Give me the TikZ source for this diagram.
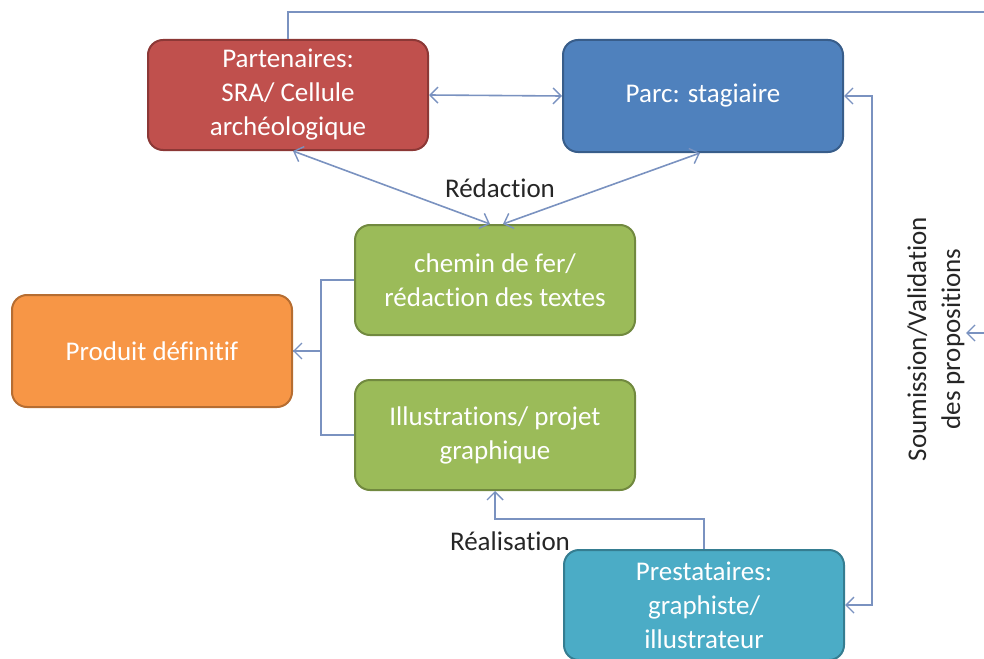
\documentclass[tikz,border=0pt]{standalone}
\usepackage{fontspec}
\setmainfont[Ligatures={NoCommon}]{Carlito}
\usetikzlibrary{arrows.meta,calc}
\definecolor{redF}{HTML}{C0504D}\definecolor{redD}{HTML}{8C3836}
\definecolor{blueF}{HTML}{4F81BD}\definecolor{blueD}{HTML}{385D8A}
\definecolor{greenF}{HTML}{9BBB59}\definecolor{greenD}{HTML}{71893F}
\definecolor{orangeF}{HTML}{F79646}\definecolor{orangeD}{HTML}{B66D31}
\definecolor{tealF}{HTML}{4BACC6}\definecolor{tealD}{HTML}{357D91}
\definecolor{conn}{HTML}{7A92C0}
\definecolor{lbl}{HTML}{262626}
\tikzset{
  box/.style={rectangle, rounded corners=15pt, line width=2pt, minimum width=280pt,
    minimum height=110pt, align=center, text=white, inner sep=2pt,
    font=\fontsize{27}{34}\selectfont},
  conline/.style={draw=conn, line width=1.6pt, arrows={-}},
  tip/.tip={Straight Barb[length=8pt,width=16pt,line width=1.4pt]},
  lab/.style={text=lbl, font=\fontsize{27}{34}\selectfont, align=center, inner sep=0pt}
}
\begin{document}
\begin{tikzpicture}[x=1pt,y=-1pt]
\useasboundingbox (0,0) rectangle (984,658);
\node[box, fill=redF, draw=redD] (red) at (288,95) {Partenaires:\\SRA/ Cellule\\archéologique};
\node[box, fill=blueF, draw=blueD, minimum height=112pt] (blue) at (703,96) {Parc: stagiaire};
\node[box, fill=greenF, draw=greenD] (g1) at (495,280) {chemin de fer/\\rédaction des textes};
\node[box, fill=greenF, draw=greenD] (g2) at (495,435) {Illustrations/ projet\\graphique};
\node[box, fill=orangeF, draw=orangeD, minimum height=112pt] (orange) at (152,351) {Produit définitif};
\node[box, fill=tealF, draw=tealD] (teal) at (704,605) {Prestataires:\\graphiste/\\illustrateur};

\node[lab] (redac) at (500,188) {Rédaction};
\node[lab] (real) at (510,541) {Réalisation};
\node[lab, rotate=90] (soum) at (936,339) {Soumission/Validation\\des propositions};

\coordinate (tr) at (984,12);
\coordinate (re) at (984,333);

\draw[conline, tip-tip] (red.east) -- (blue.west);
\draw[conline, tip-tip] ([xshift=5pt]red.south) -- ([xshift=-5pt]g1.north);
\draw[conline, tip-tip] ([xshift=-3pt]blue.south) -- ([xshift=8pt]g1.north);
\draw[conline, -tip] (g1.west) -- ++(-33,0) |- (orange.east);
\draw[conline] (g2.west) -- ++(-33,0) |- (orange.east);
\draw[conline, -tip] (teal.north) -- ++(0,-30) -| (g2.south);
\draw[conline, tip-tip] (blue.east) -- ++(28,0) |- (teal.east);
\draw[conline] (red.north) |- (tr);
\draw[conline, -tip] (re) -- ++(-18,0);
\end{tikzpicture}
\end{document}
